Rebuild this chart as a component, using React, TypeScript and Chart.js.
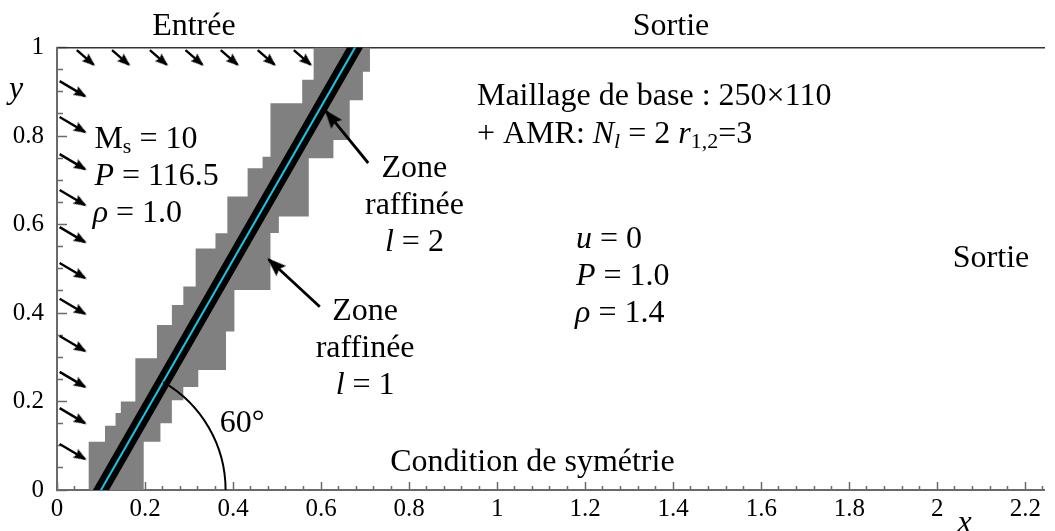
import React, { useEffect, useRef } from 'react';
import { Chart, registerables } from 'chart.js';

Chart.register(...registerables);

const W = 1055;
const H = 531;

// ---- axes ----
const xMax = 2.243;
const yMax = 1;
const xMinorStep = 0.04;
const xMajorStep = 0.2;
const yMinorStep = 0.05;
const yMajorStep = 0.2;
const xTickLabels = ['0', '0.2', '0.4', '0.6', '0.8', '1', '1.2', '1.4', '1.6', '1.8', '2', '2.2'];
const yTickLabels = ['0', '0.2', '0.4', '0.6', '0.8', '1'];

// ---- shock front (60°) and level-2 refined band ----
const shockX = [0.1, 0.677];
const shockY = [0, 1];

// ---- level-1 refined zone (staircase edges) ----
const zone1LeftY = [0, 0.109, 0.145, 0.174, 0.2, 0.298, 0.373, 0.418, 0.46, 0.546, 0.58, 0.663, 0.727, 0.753, 0.874, 0.927, 1.0];
const zone1LeftX = [0.072, 0.109, 0.133, 0.145, 0.178, 0.227, 0.261, 0.287, 0.315, 0.36, 0.387, 0.433, 0.467, 0.485, 0.557, 0.583];
const zone1RightY = [0, 0.109, 0.151, 0.203, 0.233, 0.271, 0.358, 0.452, 0.581, 0.618, 0.75, 0.791, 0.881, 0.945, 1.0];
const zone1RightX = [0.197, 0.235, 0.261, 0.287, 0.321, 0.384, 0.403, 0.485, 0.504, 0.572, 0.628, 0.665, 0.695, 0.711];

// ---- inflow arrows ----
const inflowLeftTailY = [0.104, 0.185, 0.267, 0.348, 0.432, 0.513, 0.594, 0.678, 0.759, 0.843, 0.924];
const inflowLeftTailX = [0.006];
const inflowLeftVec = [0.0575, -0.0339];
const inflowTopTailX = [0.045, 0.125, 0.211, 0.292, 0.372, 0.456, 0.538];
const inflowTopTailY = [0.994];
const inflowTopVec = [0.038, -0.0325];

// ---- callout arrows (l = 2, l = 1) ----
const calloutTailX = [0.707, 0.597];
const calloutTailY = [0.739, 0.414];
const calloutHeadX = [0.611, 0.481];
const calloutHeadY = [0.856, 0.521];

// ---- 60° angle arc ----
const arcCenter = [0.1, 0];
const arcRadiusX = 0.283;
const arcAngleDeg = 60;

const FONT = '"Liberation Serif", "Times New Roman", serif';
const AXIS = '#6a6a6a';

type Run = { t: string; i?: boolean; sub?: boolean };
type Note = { x: number; y: number; align: 'left' | 'center'; runs: Run[] };

const notes: Note[] = [
  { x: 0.311, y: 1.028, align: 'center', runs: [{ t: 'Entrée' }] },
  { x: 1.395, y: 1.028, align: 'center', runs: [{ t: 'Sortie' }] },
  { x: 2.122, y: 0.504, align: 'center', runs: [{ t: 'Sortie' }] },
  { x: -0.093, y: 0.886, align: 'center', runs: [{ t: 'y', i: true }] },
  { x: 2.062, y: -0.0956, align: 'center', runs: [{ t: 'x', i: true }] },
  { x: 0.085, y: 0.773, align: 'left', runs: [{ t: 'M' }, { t: 's', sub: true }, { t: ' = 10' }] },
  { x: 0.085, y: 0.689, align: 'left', runs: [{ t: 'P', i: true }, { t: ' = 116.5' }] },
  { x: 0.081, y: 0.606, align: 'left', runs: [{ t: 'ρ', i: true }, { t: ' = 1.0' }] },
  { x: 0.954, y: 0.87, align: 'left', runs: [{ t: 'Maillage de base : 250×110' }] },
  {
    x: 0.954, y: 0.784, align: 'left',
    runs: [{ t: '+ AMR: ' }, { t: 'N', i: true }, { t: 'l', i: true, sub: true }, { t: ' = 2 ' }, { t: 'r', i: true }, { t: '1,2', sub: true }, { t: '=3' }],
  },
  { x: 1.179, y: 0.547, align: 'left', runs: [{ t: 'u', i: true }, { t: ' = 0' }] },
  { x: 1.179, y: 0.463, align: 'left', runs: [{ t: 'P', i: true }, { t: ' = 1.0' }] },
  { x: 1.177, y: 0.38, align: 'left', runs: [{ t: 'ρ', i: true }, { t: ' = 1.4' }] },
  { x: 0.812, y: 0.707, align: 'center', runs: [{ t: 'Zone' }] },
  { x: 0.812, y: 0.624, align: 'center', runs: [{ t: 'raffinée' }] },
  { x: 0.812, y: 0.54, align: 'center', runs: [{ t: 'l', i: true }, { t: ' = 2' }] },
  { x: 0.7, y: 0.384, align: 'center', runs: [{ t: 'Zone' }] },
  { x: 0.7, y: 0.301, align: 'center', runs: [{ t: 'raffinée' }] },
  { x: 0.7, y: 0.217, align: 'center', runs: [{ t: 'l', i: true }, { t: ' = 1' }] },
  { x: 0.757, y: 0.043, align: 'left', runs: [{ t: 'Condition de symétrie' }] },
  { x: 0.37, y: 0.131, align: 'left', runs: [{ t: '60°' }] },
];

function isMajor(v: number, step: number) {
  const k = Math.round(v / step);
  return Math.abs(v - k * step) < 1e-6;
}

function labelFor(v: number, step: number, labels: string[]) {
  const k = Math.round(v / step);
  return isMajor(v, step) && k >= 0 && k < labels.length ? labels[k] : '';
}

function stairPolygon(lx: number[], ly: number[], rx: number[], ry: number[]) {
  const pts: { x: number; y: number }[] = [];
  for (let i = 0; i < lx.length; i++) {
    pts.push({ x: lx[i], y: ly[i] }, { x: lx[i], y: ly[i + 1] });
  }
  for (let i = rx.length - 1; i >= 0; i--) {
    pts.push({ x: rx[i], y: ry[i + 1] }, { x: rx[i], y: ry[i] });
  }
  return pts;
}

function makeHead(len: number, wid: number) {
  const c = document.createElement('canvas');
  const h = Math.ceil(2 * len + 6);
  const w = Math.ceil(wid) + 4;
  c.width = w;
  c.height = h;
  const g = c.getContext('2d')!;
  const cx = w / 2;
  const tip = h / 2 - 2;
  g.fillStyle = '#000';
  g.beginPath();
  g.moveTo(cx, tip);
  g.lineTo(cx + wid / 2, tip + len);
  g.lineTo(cx, tip + len * 0.86);
  g.lineTo(cx - wid / 2, tip + len);
  g.closePath();
  g.fill();
  return c;
}

function drawRuns(ctx: CanvasRenderingContext2D, runs: Run[], x: number, y: number, align: string, size: number) {
  const fontFor = (r: Run) => `${r.i ? 'italic ' : ''}${r.sub ? Math.round(size * 0.68) : size}px ${FONT}`;
  let total = 0;
  for (const r of runs) {
    ctx.font = fontFor(r);
    total += ctx.measureText(r.t).width;
  }
  let cx = align === 'center' ? x - total / 2 : x;
  for (const r of runs) {
    ctx.font = fontFor(r);
    ctx.fillText(r.t, cx, r.sub ? y + size * 0.16 : y);
    cx += ctx.measureText(r.t).width;
  }
}

const decorPlugin = {
  id: 'decor',
  afterDatasetsDraw(chart: any) {
    const { ctx, scales } = chart;
    const sx = scales.x;
    const sy = scales.y;
    const cx = sx.getPixelForValue(arcCenter[0]);
    const cy = sy.getPixelForValue(arcCenter[1]);
    const r = sx.getPixelForValue(arcCenter[0] + arcRadiusX) - cx;
    ctx.save();
    ctx.strokeStyle = '#000';
    ctx.lineWidth = 2;
    ctx.beginPath();
    ctx.arc(cx, cy, r, (-arcAngleDeg * Math.PI) / 180, 0);
    ctx.stroke();
    ctx.restore();
  },
  afterDraw(chart: any) {
    const { ctx, scales } = chart;
    ctx.save();
    ctx.fillStyle = '#000';
    ctx.textBaseline = 'alphabetic';
    ctx.textAlign = 'left';
    for (const n of notes) {
      drawRuns(ctx, n.runs, scales.x.getPixelForValue(n.x), scales.y.getPixelForValue(n.y), n.align, 32);
    }
    ctx.restore();
  },
};

export default function App() {
  const ref = useRef<HTMLCanvasElement>(null);

  useEffect(() => {
    const canvas = ref.current;
    if (!canvas) return;

    const smallHead = makeHead(13, 10);
    const bigHead = makeHead(19, 14);

    const rotation = (c: any) => {
      const d = c.dataset.data;
      const sx = c.chart.scales.x;
      const sy = c.chart.scales.y;
      const dx = sx.getPixelForValue(d[1].x) - sx.getPixelForValue(d[0].x);
      const dy = sy.getPixelForValue(d[1].y) - sy.getPixelForValue(d[0].y);
      return (Math.atan2(dx, -dy) * 180) / Math.PI;
    };

    const arrow = (tx: number, ty: number, hx: number, hy: number, head: HTMLCanvasElement, width: number) => ({
      data: [
        { x: tx, y: ty },
        { x: hx, y: hy },
      ],
      showLine: true,
      borderColor: '#000',
      backgroundColor: '#000',
      borderWidth: width,
      pointRadius: [0, 1],
      pointHoverRadius: [0, 1],
      pointStyle: head,
      pointRotation: rotation,
      order: 1,
    });

    const arrows: any[] = [];
    for (const ty of inflowLeftTailY) {
      const tx = inflowLeftTailX[0];
      arrows.push(arrow(tx, ty, tx + inflowLeftVec[0], ty + inflowLeftVec[1], smallHead, 2.4));
    }
    for (const tx of inflowTopTailX) {
      const ty = inflowTopTailY[0];
      arrows.push(arrow(tx, ty, tx + inflowTopVec[0], ty + inflowTopVec[1], smallHead, 2.4));
    }
    for (let i = 0; i < calloutTailX.length; i++) {
      arrows.push(arrow(calloutTailX[i], calloutTailY[i], calloutHeadX[i], calloutHeadY[i], bigHead, 2.8));
    }

    const shockPts = shockX.map((x, i) => ({ x, y: shockY[i] }));

    const chart = new Chart(canvas, {
      type: 'scatter',
      data: {
        datasets: [
          {
            data: stairPolygon(zone1LeftX, zone1LeftY, zone1RightX, zone1RightY),
            showLine: true,
            fill: 'shape',
            backgroundColor: '#808080',
            borderWidth: 0,
            pointRadius: 0,
            order: 10,
            clip: 0,
          } as any,
          {
            data: shockPts,
            showLine: true,
            borderColor: '#000',
            borderWidth: 14,
            borderCapStyle: 'square',
            pointRadius: 0,
            order: 9,
            clip: 0,
          } as any,
          {
            data: shockPts,
            showLine: true,
            borderColor: '#12c6e6',
            borderWidth: 2,
            borderCapStyle: 'square',
            pointRadius: 0,
            order: 8,
            clip: 0,
          } as any,
          ...arrows,
        ],
      },
      options: {
        responsive: false,
        devicePixelRatio: 1,
        animation: false,
        events: [],
        layout: { padding: 0 },
        plugins: {
          legend: { display: false },
          tooltip: { enabled: false },
        },
        scales: {
          x: {
            type: 'linear',
            position: 'bottom',
            min: 0,
            max: xMax,
            bounds: 'data',
            z: 1,
            afterFit: (s: any) => {
              s.height = 41;
            },
            grid: {
              display: true,
              drawOnChartArea: false,
              drawTicks: true,
              tickLength: -8,
              tickColor: AXIS,
              tickWidth: 1.5,
              tickBorderDash: (c: any) => (c.tick && isMajor(c.tick.value, xMajorStep) ? [] : [5, 100]),
            },
            border: { display: true, color: AXIS, width: 2 },
            ticks: {
              stepSize: xMinorStep,
              autoSkip: false,
              includeBounds: false,
              maxRotation: 0,
              minRotation: 0,
              padding: 12,
              color: '#000',
              font: { family: FONT, size: 25 },
              callback: (v: any) => labelFor(Number(v), xMajorStep, xTickLabels),
            },
          },
          x2: {
            type: 'linear',
            position: 'top',
            min: 0,
            max: xMax,
            afterFit: (s: any) => {
              s.height = 47.5;
            },
            grid: { display: false, drawTicks: false },
            ticks: { display: false },
            border: { display: true, color: '#333', width: 1.5 },
          },
          y: {
            type: 'linear',
            position: 'left',
            min: 0,
            max: yMax,
            bounds: 'data',
            afterFit: (s: any) => {
              s.width = 57;
            },
            grid: {
              display: true,
              drawOnChartArea: false,
              drawTicks: true,
              tickLength: -10,
              tickColor: AXIS,
              tickWidth: 1.5,
              tickBorderDash: (c: any) => (c.tick && isMajor(c.tick.value, yMajorStep) ? [] : [0, 4, 100]),
            },
            border: { display: true, color: AXIS, width: 2 },
            ticks: {
              stepSize: yMinorStep,
              autoSkip: false,
              includeBounds: false,
              padding: 23,
              color: '#000',
              font: { family: FONT, size: 25 },
              callback: (v: any) => labelFor(Number(v), yMajorStep, yTickLabels),
            },
          },
        },
      } as any,
      plugins: [decorPlugin],
    });

    return () => chart.destroy();
  }, []);

  return (
    <div style={{ position: 'absolute', left: 0, top: 0, width: W, height: H, background: '#fff' }}>
      <canvas ref={ref} width={W} height={H} style={{ display: 'block', width: W, height: H }} />
    </div>
  );
}
